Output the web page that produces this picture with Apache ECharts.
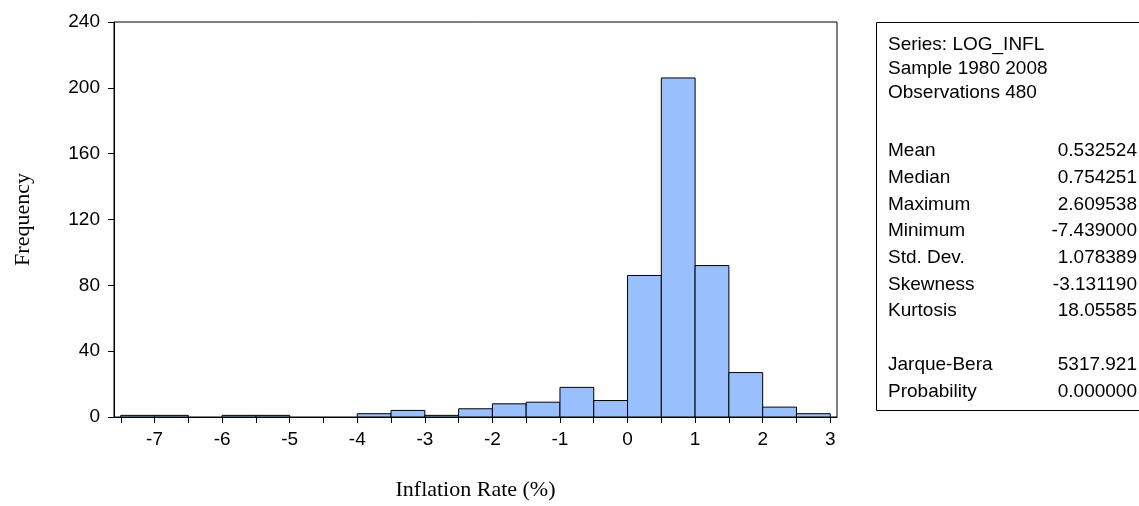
<!DOCTYPE html>
<html>
<head>
<meta charset="utf-8">
<script src="https://cdn.jsdelivr.net/npm/echarts@6/dist/echarts.min.js"></script>
<style>
  html, body { margin: 0; padding: 0; background: #fff; }
  #main { width: 1139px; height: 506px; }
</style>
</head>
<body>
<div id="main"></div>
<script>
// bin lower edges, width 0.5
var binStart = [-7.5, -7, -6.5, -6, -5.5, -5, -4.5, -4, -3.5, -3, -2.5,
                -2, -1.5, -1, -0.5, 0, 0.5, 1, 1.5, 2, 2.5];
var binWidth = 0.5;
var counts = [1, 1, 0, 1, 1, 0, 0, 2, 4, 1, 5, 8, 9, 18, 10, 86, 206, 92, 27, 6, 2];
var xTicks = [-7.5, -7, -6.5, -6, -5.5, -5, -4.5, -4, -3.5, -3, -2.5,
              -2, -1.5, -1, -0.5, 0, 0.5, 1, 1.5, 2, 2.5, 3];
var xLabels = [-7, -6, -5, -4, -3, -2, -1, 0, 1, 2, 3];

// stats box
var headLines = ['Series: LOG_INFL', 'Sample 1980 2008', 'Observations 480'];
var statNames = ['Mean', 'Median', 'Maximum', 'Minimum', 'Std. Dev.', 'Skewness', 'Kurtosis', '', 'Jarque-Bera', 'Probability'];
var statValues = ['0.532524', '0.754251', '2.609538', '-7.439000', '1.078389', '-3.131190', '18.05585', '', '5317.921', '0.000000'];

var data = [];
for (var i = 0; i < binStart.length; i++) {
    data.push([binStart[i], binStart[i] + binWidth, counts[i]]);
}

function renderBar(params, api) {
    var y = api.value(2);
    if (!y) return null;
    var p0 = api.coord([api.value(0), y]);
    var p1 = api.coord([api.value(1), 0]);
    return {
        type: 'rect',
        shape: { x: p0[0], y: p0[1], width: p1[0] - p0[0], height: p1[1] - p0[1] },
        style: { fill: '#99bfff', stroke: '#000', lineWidth: 1 }
    };
}

var sans = '"Liberation Sans", Arial, sans-serif';
var serif = '"Liberation Serif", "Times New Roman", serif';
var boxFont = '19px ' + sans;
var graphics = [{
    type: 'rect',
    shape: { x: 876.5, y: 22.5, width: 280, height: 388 },
    style: { fill: 'none', stroke: '#000', lineWidth: 1 }
}];
for (var h = 0; h < headLines.length; h++) {
    graphics.push({ type: 'text', x: 888, y: 45 + h * 24,
        style: { text: headLines[h], font: boxFont, fill: '#000', textVerticalAlign: 'middle' } });
}
for (var s = 0; s < statNames.length; s++) {
    if (!statNames[s]) continue;
    var yy = 151 + s * 26.7;
    graphics.push({ type: 'text', x: 888, y: yy,
        style: { text: statNames[s], font: boxFont, fill: '#000', textVerticalAlign: 'middle' } });
    graphics.push({ type: 'text', x: 1137, y: yy,
        style: { text: statValues[s], font: boxFont, fill: '#000', textAlign: 'right', textVerticalAlign: 'middle' } });
}

var myChart = echarts.init(document.getElementById('main'));
var option = {
    animation: false,
    grid: { left: 114, right: 302, top: 22, bottom: 84, show: true, borderColor: '#000', borderWidth: 1 },
    xAxis: {
        type: 'value',
        min: -7.6,
        max: 3.1,
        name: 'Inflation Rate (%)',
        nameLocation: 'middle',
        nameGap: 62,
        nameTextStyle: { fontFamily: serif, fontSize: 22, color: '#000' },
        splitLine: { show: false },
        axisLine: { show: true, onZero: false, lineStyle: { color: '#000' } },
        axisTick: { show: true, length: 6, lineStyle: { color: '#000' }, customValues: xTicks },
        axisLabel: { customValues: xLabels, margin: 13, fontFamily: sans, fontSize: 19, color: '#000' }
    },
    yAxis: {
        type: 'value',
        min: 0,
        max: 240,
        interval: 40,
        name: 'Frequency',
        nameLocation: 'middle',
        nameRotate: 90,
        nameGap: 80,
        nameTextStyle: { fontFamily: serif, fontSize: 22, color: '#000' },
        splitLine: { show: false },
        axisLine: { show: true, onZero: false, lineStyle: { color: '#000' } },
        axisTick: { show: true, length: 6, lineStyle: { color: '#000' } },
        axisLabel: { margin: 14, fontFamily: sans, fontSize: 19, color: '#000' }
    },
    series: [{
        type: 'custom',
        renderItem: renderBar,
        data: data,
        encode: { x: [0, 1], y: 2 }
    }],
    graphic: graphics
};
myChart.setOption(option);
</script>
</body>
</html>
